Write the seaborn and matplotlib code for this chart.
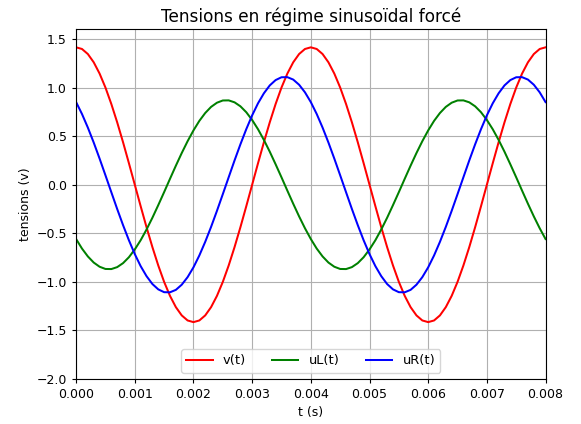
import numpy as np
import pandas as pd
import matplotlib
matplotlib.use("Agg")
import matplotlib.pyplot as plt
import seaborn as sns

# time samples (s), step 0.0001 s
t = [round(i * 0.0001, 4) for i in range(81)]

v_period = [1.414, 1.397, 1.345, 1.260, 1.144, 1.000, 0.831, 0.642, 0.437, 0.221,
            0.000, -0.221, -0.437, -0.642, -0.831, -1.000, -1.144, -1.260, -1.345, -1.397,
            -1.414, -1.397, -1.345, -1.260, -1.144, -1.000, -0.831, -0.642, -0.437, -0.221,
            0.000, 0.221, 0.437, 0.642, 0.831, 1.000, 1.144, 1.260, 1.345, 1.397]
v = v_period + v_period + [1.414]

uL_period = [-0.559, -0.657, -0.738, -0.801, -0.844, -0.867, -0.868, -0.848, -0.807, -0.746,
             -0.666, -0.571, -0.461, -0.340, -0.210, -0.076, 0.061, 0.196, 0.326, 0.448,
             0.559, 0.657, 0.738, 0.801, 0.844, 0.867, 0.868, 0.848, 0.807, 0.746,
             0.666, 0.571, 0.461, 0.340, 0.210, 0.076, -0.061, -0.196, -0.326, -0.448]
uL = uL_period + uL_period + [-0.559]

uR_period = [0.850, 0.728, 0.588, 0.434, 0.269, 0.097, -0.077, -0.250, -0.416, -0.572,
             -0.714, -0.838, -0.941, -1.022, -1.077, -1.106, -1.107, -1.082, -1.029, -0.951,
             -0.850, -0.728, -0.588, -0.434, -0.269, -0.097, 0.077, 0.250, 0.416, 0.572,
             0.714, 0.838, 0.941, 1.022, 1.077, 1.106, 1.107, 1.082, 1.029, 0.951]
uR = uR_period + uR_period + [0.850]

series_names = ["v(t)", "uL(t)", "uR(t)"]
series_colors = ["red", "green", "blue"]
series_values = [v, uL, uR]

x_ticks = [0.000, 0.001, 0.002, 0.003, 0.004, 0.005, 0.006, 0.007, 0.008]
y_ticks = [-2.0, -1.5, -1.0, -0.5, 0.0, 0.5, 1.0, 1.5]

fig = plt.figure(figsize=(5.81, 4.24), dpi=100)
ax = fig.add_axes([0.131, 0.106, 0.808, 0.825])

for name, col, vals in zip(series_names, series_colors, series_values):
    df = pd.DataFrame({"t": t, "val": vals})
    sns.lineplot(data=df, x="t", y="val", ax=ax, color=col, label=name,
                 linewidth=1.45, sort=False)

ax.set_xlim(0, 0.008)
ax.set_ylim(-2.0, 1.6)
ax.set_xticks(x_ticks)
ax.set_xticklabels([f"{x:.3f}" for x in x_ticks])
ax.set_yticks(y_ticks)
ax.set_yticklabels([f"{y:.1f}".replace("-", "\u2212") for y in y_ticks])
ax.tick_params(labelsize=9, width=0.8, length=3.2)
ax.grid(True, color="#b0b0b0", linewidth=0.8)
ax.set_axisbelow(True)
for s in ax.spines.values():
    s.set_linewidth(0.8)

ax.set_xlabel("t (s)", fontsize=9, labelpad=3)
ax.set_ylabel("tensions (v)", fontsize=9, labelpad=3)
ax.set_title("Tensions en régime sinusoïdal forcé", fontsize=12.2, pad=5)
ax.legend(loc="lower center", ncol=3, fontsize=9.4, framealpha=0.8)

fig.savefig("out.png", dpi=100)
